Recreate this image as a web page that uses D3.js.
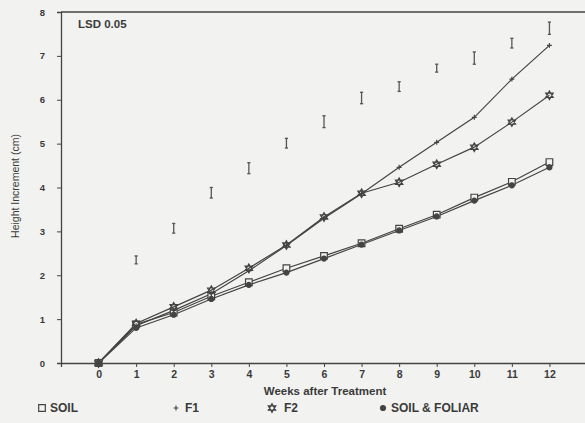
<!DOCTYPE html>
<html>
<head>
<meta charset="utf-8">
<script src="https://cdn.jsdelivr.net/npm/d3@7"></script>
<style>
  html, body { margin: 0; padding: 0; background: #f2f2f0; }
  svg { display: block; font-family: "Liberation Sans", Arial, sans-serif; }
  .tick text { font-weight: bold; fill: #3a3a3a; }
</style>
</head>
<body>
<svg id="chart" width="585" height="423"></svg>
<script>
// values
var weeks = [0, 1, 2, 3, 4, 5, 6, 7, 8, 9, 10, 11, 12]
var soil = [0, 0.88, 1.15, 1.52, 1.84, 2.16, 2.44, 2.73, 3.06, 3.38, 3.77, 4.13, 4.58]
var f1 = [0, 0.85, 1.2, 1.58, 2.1, 2.68, 3.3, 3.86, 4.46, 5.03, 5.6, 6.47, 7.24]
var f2 = [0, 0.9, 1.28, 1.66, 2.16, 2.69, 3.33, 3.87, 4.12, 4.53, 4.92, 5.49, 6.1]
var soilFoliar = [0, 0.8, 1.1, 1.46, 1.78, 2.06, 2.38, 2.7, 3.02, 3.34, 3.7, 4.05, 4.46]

// LSD 0.05 bars: week, centre and length
var lsdWeeks = [1, 2, 3, 4, 5, 6, 7, 8, 9, 10, 11, 12]
var lsdMid = [2.35, 3.07, 3.88, 4.44, 5.01, 5.5, 6.04, 6.3, 6.72, 6.95, 7.29, 7.63]
var lsdLen = [0.18, 0.22, 0.24, 0.25, 0.22, 0.27, 0.26, 0.22, 0.18, 0.28, 0.22, 0.28]

var xTicks = [0, 1, 2, 3, 4, 5, 6, 7, 8, 9, 10, 11, 12]
var yTicks = [0, 1, 2, 3, 4, 5, 6, 7, 8]
var seriesNames = ["SOIL", "F1", "F2", "SOIL & FOLIAR"]

var ink = "#444"
var svg = d3.select("#chart")

var x = d3.scaleLinear().domain([-1, 13]).range([61, 587])
var y = d3.scaleLinear().domain([0, 8]).range([363, 12])

// six pointed open star used for F2
var hexStar = {
  draw: function(ctx, size) {
    var r = Math.sqrt(size) * 0.62
    for (var k = 0; k < 2; k++) {
      for (var i = 0; i < 3; i++) {
        var a = (k * 60 + i * 120 - 90) * Math.PI / 180
        if (i == 0) ctx.moveTo(r * Math.cos(a), r * Math.sin(a))
        else ctx.lineTo(r * Math.cos(a), r * Math.sin(a))
      }
      ctx.closePath()
    }
  }
}
var thinPlus = {
  draw: function(ctx, size) {
    var r = Math.sqrt(size) / 2
    ctx.moveTo(-r, 0); ctx.lineTo(r, 0)
    ctx.moveTo(0, -r); ctx.lineTo(0, r)
  }
}

var series = [
  { name: seriesNames[0], values: soil, type: d3.symbolSquare, size: 44, fill: "#f2f2f0" },
  { name: seriesNames[1], values: f1, type: thinPlus, size: 24, fill: "none" },
  { name: seriesNames[2], values: f2, type: hexStar, size: 48, fill: "none" },
  { name: seriesNames[3], values: soilFoliar, type: d3.symbolCircle, size: 20, fill: ink }
]

// frame: top border line
svg.append("line")
  .attr("x1", x(-1)).attr("x2", 585)
  .attr("y1", y(8)).attr("y2", y(8))
  .attr("stroke", ink).attr("stroke-width", 1.3)

// y axis
var yAxis = svg.append("g")
  .attr("transform", "translate(" + x(-1) + ",0)")
  .call(d3.axisLeft(y).tickValues(yTicks).tickFormat(d3.format("d")).tickSize(4).tickPadding(12))
yAxis.select(".domain").attr("stroke", ink).attr("stroke-width", 1.3)
yAxis.selectAll(".tick line").attr("stroke", ink)
yAxis.selectAll(".tick text").style("font-size", "9.5px")

// x axis
var xAxis = svg.append("g")
  .attr("transform", "translate(0," + y(0) + ")")
  .call(d3.axisBottom(x).tickValues(xTicks).tickFormat(d3.format("d")).tickSize(4).tickPadding(4))
xAxis.select(".domain").attr("stroke", ink).attr("stroke-width", 1.3)
xAxis.selectAll(".tick line").attr("stroke", ink).attr("opacity", function(d) { return d == 0 ? 0 : 1 })
xAxis.selectAll(".tick text").style("font-size", "10.5px")

// axis titles
svg.append("text")
  .attr("transform", "translate(19," + 186 + ") rotate(-90)")
  .attr("text-anchor", "middle")
  .style("font-size", "10.5px")
  .attr("fill", "#3a3a3a")
  .text("Height Increment (cm)")

svg.append("text")
  .attr("x", 325).attr("y", 395)
  .attr("text-anchor", "middle")
  .style("font-size", "11.5px").style("font-weight", "bold")
  .attr("fill", "#3a3a3a")
  .text("Weeks after Treatment")

svg.append("text")
  .attr("x", 78).attr("y", 28)
  .style("font-size", "11.5px").style("font-weight", "bold")
  .attr("fill", "#3a3a3a")
  .text("LSD 0.05")

// LSD bars
var lsd = svg.append("g").attr("stroke", "#555").attr("stroke-width", 1.3)
lsdWeeks.forEach(function(w, i) {
  var top = y(lsdMid[i] + lsdLen[i] / 2), bot = y(lsdMid[i] - lsdLen[i] / 2)
  lsd.append("line").attr("x1", x(w)).attr("x2", x(w)).attr("y1", top).attr("y2", bot)
  lsd.append("line").attr("x1", x(w) - 1.6).attr("x2", x(w) + 1.6).attr("y1", top).attr("y2", top)
  lsd.append("line").attr("x1", x(w) - 1.6).attr("x2", x(w) + 1.6).attr("y1", bot).attr("y2", bot)
})

// lines
var line = d3.line()
  .x(function(d, i) { return x(weeks[i]) })
  .y(function(d) { return y(d) })

series.forEach(function(s) {
  svg.append("path")
    .datum(s.values)
    .attr("d", line)
    .attr("fill", "none")
    .attr("stroke", ink)
    .attr("stroke-width", 1.2)
})

// markers
series.forEach(function(s) {
  svg.append("g").selectAll("path")
    .data(s.values)
    .enter()
    .append("path")
    .attr("d", d3.symbol().type(s.type).size(s.size))
    .attr("transform", function(d, i) { return "translate(" + x(weeks[i]) + "," + y(d) + ")" })
    .attr("fill", s.fill)
    .attr("stroke", ink)
    .attr("stroke-width", 1.2)
})

// legend
var legendX = [42, 176, 272, 383]
var legendGap = [8, 9, 12, 8]
var legend = svg.append("g")
series.forEach(function(s, i) {
  legend.append("path")
    .attr("d", d3.symbol().type(s.type).size(s.size))
    .attr("transform", "translate(" + legendX[i] + ",408)")
    .attr("fill", s.fill)
    .attr("stroke", ink)
    .attr("stroke-width", 1.2)
  legend.append("text")
    .attr("x", legendX[i] + legendGap[i])
    .attr("y", 412)
    .style("font-size", "12px").style("font-weight", "bold")
    .attr("fill", "#3a3a3a")
    .text(s.name)
})
</script>
</body>
</html>
